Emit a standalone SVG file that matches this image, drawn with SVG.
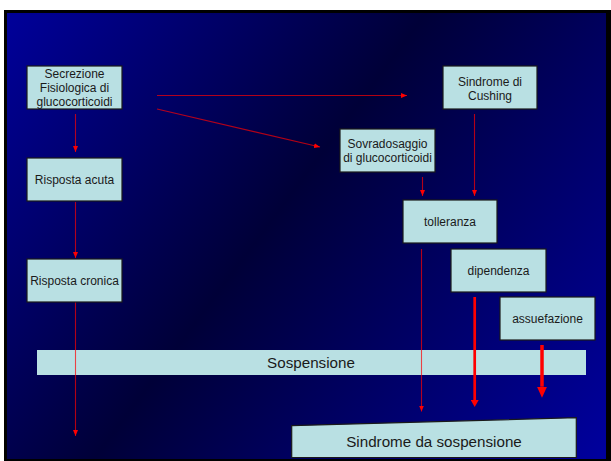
<svg xmlns="http://www.w3.org/2000/svg" width="611" height="461" viewBox="0 0 611 461">
<defs>
<linearGradient id="bg" gradientUnits="userSpaceOnUse" x1="7" y1="13" x2="606" y2="459">
<stop offset="0" stop-color="#00009a"/>
<stop offset="0.45" stop-color="#000038"/>
<stop offset="1" stop-color="#00009e"/>
</linearGradient>
<marker id="ah" markerUnits="userSpaceOnUse" viewBox="0 0 6 5" refX="6" refY="2.5" markerWidth="6" markerHeight="5" orient="auto">
<path d="M0,0 L6,2.5 L0,5 z" fill="#ff0000"/>
</marker>
<marker id="ahm" markerUnits="userSpaceOnUse" viewBox="0 0 7 8" refX="0" refY="4" markerWidth="7" markerHeight="8" orient="auto">
<path d="M0,0 L7,4 L0,8 z" fill="#ff0000"/>
</marker>
<marker id="ahl" markerUnits="userSpaceOnUse" viewBox="0 0 11 10" refX="0" refY="5" markerWidth="11" markerHeight="10" orient="auto">
<path d="M0,0 L11,5 L0,10 z" fill="#ff0000"/>
</marker>
</defs>
<style>
.box{fill:#b9e0e3;stroke:#1a1a1a;stroke-width:1.2}
.t{font-family:"Liberation Sans",Arial,sans-serif;font-size:12px;fill:#1a1a1a;text-anchor:middle}
.tb{font-family:"Liberation Sans",Arial,sans-serif;font-size:15.2px;fill:#1a1a1a;text-anchor:middle}
.thin{fill:none;stroke:#ff0000;stroke-opacity:0.7;stroke-width:1.1}
.thick{fill:none;stroke:#ff0000}
</style>
<rect x="0" y="0" width="611" height="461" fill="#ffffff"/>
<rect x="4" y="10" width="607" height="451" fill="#000000"/>
<rect x="7" y="13" width="599" height="446" fill="url(#bg)"/>

<g id="sospensione">
<rect x="37" y="350" width="549" height="25" fill="#b9e0e3"/>
<text class="tb" x="311" y="367.5">Sospensione</text>
</g>

<g id="connectors">
<path class="thin" d="M75.5,114 V152" marker-end="url(#ah)"/>
<path class="thin" d="M75.5,202 V258" marker-end="url(#ah)"/>
<path class="thin" d="M75.5,302 V436" marker-end="url(#ah)"/>
<path class="thin" d="M157,95.5 H407" marker-end="url(#ah)"/>
<path class="thin" d="M157,109 L320,147" marker-end="url(#ah)"/>
<path class="thin" d="M422.5,177 V196" marker-end="url(#ah)"/>
<path class="thin" d="M474.5,114 V196" marker-end="url(#ah)"/>
<path class="thin" d="M421.5,249 V411.5" marker-end="url(#ah)"/>
<path class="thick" stroke-width="2.7" d="M474.7,297 V400" marker-end="url(#ahm)"/>
<path class="thick" stroke-width="3.5" d="M542,345 V386.7" marker-end="url(#ahl)"/>
</g>

<g id="secrezione">
<rect class="box" x="27" y="66" width="95" height="43"/>
<text class="t" x="74.5" y="78.3">Secrezione</text>
<text class="t" x="74.5" y="92.3">Fisiologica di</text>
<text class="t" x="74.5" y="106.3">glucocorticoidi</text>
</g>
<g id="risposta-acuta">
<rect class="box" x="27" y="158" width="95" height="43"/>
<text class="t" x="74.5" y="184">Risposta acuta</text>
</g>
<g id="risposta-cronica">
<rect class="box" x="27" y="259" width="95" height="43"/>
<text class="t" x="74.5" y="285">Risposta cronica</text>
</g>
<g id="cushing">
<rect class="box" x="443" y="66" width="94" height="43"/>
<text class="t" x="490" y="85.8">Sindrome di</text>
<text class="t" x="490" y="99.8">Cushing</text>
</g>
<g id="sovradosaggio">
<rect class="box" x="340" y="129" width="95" height="43"/>
<text class="t" x="387.5" y="148.3">Sovradosaggio</text>
<text class="t" x="387.5" y="162.3">di glucocorticoidi</text>
</g>
<g id="tolleranza">
<rect class="box" x="403" y="200" width="94" height="43"/>
<text class="t" x="450" y="226">tolleranza</text>
</g>
<g id="dipendenza">
<rect class="box" x="451" y="249" width="95" height="43"/>
<text class="t" x="498.5" y="275">dipendenza</text>
</g>
<g id="assuefazione">
<rect class="box" x="500" y="297" width="95" height="43"/>
<text class="t" x="547.5" y="323">assuefazione</text>
</g>
<g id="sindrome-sospensione">
<polygon class="box" points="291.7,425.7 576.3,417.7 576.3,457.5 291.7,457.5"/>
<text class="tb" x="434" y="446.7">Sindrome da sospensione</text>
</g>
</svg>
